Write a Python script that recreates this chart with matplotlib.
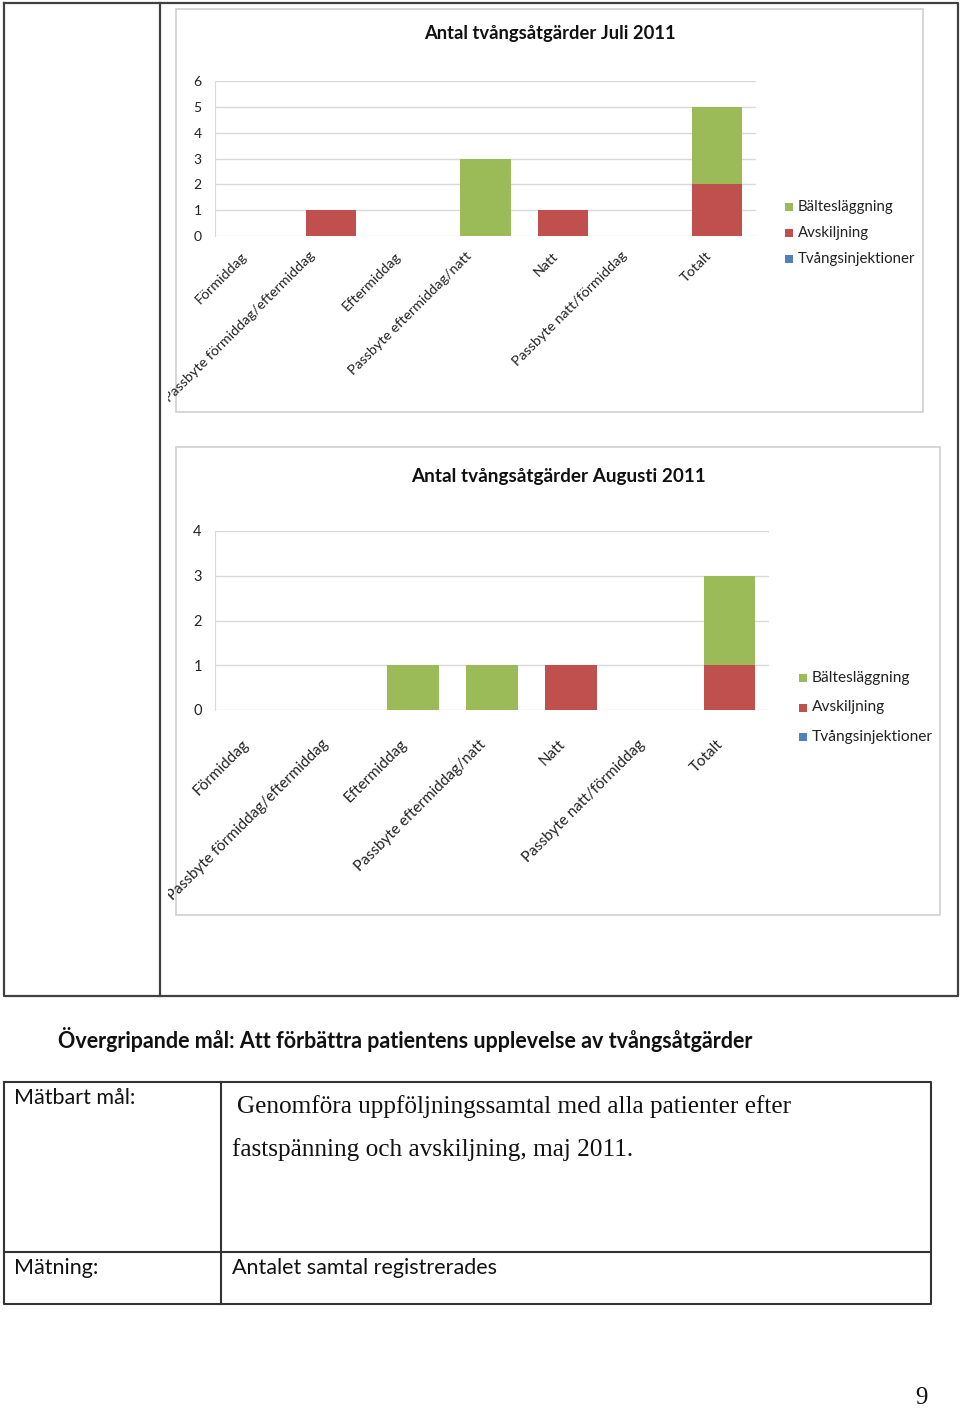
import numpy as np
import matplotlib
matplotlib.use('Agg')
import matplotlib.pyplot as plt
import matplotlib.transforms as mtransforms
from matplotlib.patches import Rectangle

plt.rcParams['font.family'] = ['Lato', 'DejaVu Sans']

W, H = 960, 1409

# data
categories = ['Förmiddag', 'Passbyte förmiddag/eftermiddag', 'Eftermiddag',
              'Passbyte eftermiddag/natt', 'Natt', 'Passbyte natt/förmiddag', 'Totalt']
series = ['Tvångsinjektioner', 'Avskiljning', 'Bältesläggning']
colors = {'Tvångsinjektioner': '#4F81BD', 'Avskiljning': '#C0504D', 'Bältesläggning': '#9BBB59'}

juli_tvang = [0, 0, 0, 0, 0, 0, 0]
juli_avsk = [0, 1, 0, 0, 1, 0, 2]
juli_balte = [0, 0, 0, 3, 0, 0, 3]

aug_tvang = [0, 0, 0, 0, 0, 0, 0]
aug_avsk = [0, 0, 0, 0, 1, 0, 1]
aug_balte = [0, 0, 1, 1, 0, 0, 2]


def px_axes(fig, x0, y0, x1, y1, **kw):
    return fig.add_axes([x0 / W, 1 - y1 / H, (x1 - x0) / W, (y1 - y0) / H], **kw)


def fig_line(fig, xs, ys, **kw):
    fig.add_artist(plt.Line2D([x / W for x in xs], [1 - y / H for y in ys],
                              transform=fig.transFigure, **kw))


fig = plt.figure(figsize=(W / 100, H / 100), dpi=100)
fig.patch.set_facecolor('white')

# outer table around the charts
lc = '#404040'
fig_line(fig, [4, 958, 958, 4, 4], [3, 3, 996, 996, 3], color=lc, lw=1.6)
fig_line(fig, [160, 160], [3, 996], color=lc, lw=1.6)

clip = Rectangle((168 / W, 0), (958 - 168) / W, 1, transform=fig.transFigure,
                 facecolor='none', edgecolor='none')
fig.add_artist(clip)


def chart(frame, plot, ymax, title, tsize, data, legend_xy, lab):
    fx0, fy0, fx1, fy1 = frame
    lab_dx, lab_k, lab_dy, lab_fs, tick_fs, leg_fs = lab
    fig.add_artist(Rectangle((fx0 / W, 1 - fy1 / H), (fx1 - fx0) / W, (fy1 - fy0) / H,
                             transform=fig.transFigure, facecolor='white',
                             edgecolor='#D0D0D0', lw=1.2, zorder=0))
    ax = px_axes(fig, *plot)
    x = np.arange(len(categories))
    bottom = np.zeros(len(categories))
    for name, vals in zip(series, data):
        ax.bar(x, vals, 0.65, bottom=bottom, color=colors[name], zorder=3)
        bottom += np.array(vals)
    ax.set_xlim(-0.5, len(categories) - 0.5)
    ax.set_ylim(0, ymax)
    ax.set_yticks(range(ymax + 1))
    ax.tick_params(axis='y', length=0, pad=9.5, labelsize=tick_fs, colors='#222222')
    ax.set_xticks([])
    ax.grid(axis='y', color='#D9D9D9', lw=1, zorder=0)
    for s in ['top', 'right', 'bottom']:
        ax.spines[s].set_visible(False)
    ax.spines['left'].set_color('#D9D9D9')

    trans = mtransforms.blended_transform_factory(ax.transData, ax.transAxes)
    for i, txt in enumerate(categories):
        dx = lab_dx - lab_k * len(txt)
        off = mtransforms.ScaledTranslation(dx / 100, -lab_dy / 100, fig.dpi_scale_trans)
        t = ax.text(i, 0, txt, transform=trans + off, rotation=45, ha='right', va='center',
                    rotation_mode='anchor', fontsize=lab_fs, color='#222222', clip_on=True)
        t.set_clip_path(clip)

    cx = (fx0 + fx1) / 2
    fig.text(cx / W, 1 - (fy0 + tsize[1]) / H, title, ha='center', va='center',
             fontsize=tsize[0], fontweight='bold', color='#111111')

    lx, ly, step = legend_xy
    for k, name in enumerate(reversed(series)):
        yy = ly + k * step
        fig.add_artist(Rectangle(((lx - 4) / W, 1 - (yy + 4) / H), 8 / W, 8 / H,
                                 transform=fig.transFigure, facecolor=colors[name],
                                 edgecolor='none'))
        fig.text((lx + 9) / W, 1 - yy / H, name, ha='left', va='center',
                 fontsize=leg_fs, color='#222222')
    return ax


chart((176, 9, 923, 412), (215, 81, 756, 236), 6, 'Antal tvångsåtgärder Juli 2011', (13.2, 24),
      [juli_tvang, juli_avsk, juli_balte], (789, 207, 26), (-5, 0.43, 18, 10.3, 10, 10.8))
chart((176, 447, 940, 915), (215, 531, 769, 710), 4, 'Antal tvångsåtgärder Augusti 2011', (13.6, 29),
      [aug_tvang, aug_avsk, aug_balte], (803, 678, 29.5), (-8, 0, 32, 11, 10.5, 11.2))

# text and table below
fig.text(58 / W, 1 - 1040 / H, 'Övergripande mål: Att förbättra patientens upplevelse av tvångsåtgärder',
         ha='left', va='center', fontsize=15.5, fontweight='bold', color='#111111')

tc = '#333333'
fig_line(fig, [4, 931, 931, 4, 4], [1082, 1082, 1304, 1304, 1082], color=tc, lw=1.5)
fig_line(fig, [4, 931], [1252, 1252], color=tc, lw=1.5)
fig_line(fig, [221, 221], [1082, 1304], color=tc, lw=1.5)

fig.text(14 / W, 1 - 1098 / H, 'Mätbart mål:', ha='left', va='center', fontsize=15.5, color='#111111')
fig.text(14 / W, 1 - 1268 / H, 'Mätning:', ha='left', va='center', fontsize=15.5, color='#111111')
fig.text(232 / W, 1 - 1268 / H, 'Antalet samtal registrerades', ha='left', va='center',
         fontsize=15.5, color='#111111')
fig.text(237 / W, 1 - 1107 / H, 'Genomföra uppföljningssamtal med alla patienter efter',
         ha='left', va='center', fontsize=18.2, family='Liberation Serif', color='#111111')
fig.text(232 / W, 1 - 1150 / H, 'fastspänning och avskiljning, maj 2011.',
         ha='left', va='center', fontsize=18.2, family='Liberation Serif', color='#111111')

fig.text(921 / W, 1 - 1398 / H, '9', ha='center', va='center', fontsize=18,
         family='Liberation Serif', color='#111111')

fig.savefig('out.png', dpi=100, facecolor='white')
